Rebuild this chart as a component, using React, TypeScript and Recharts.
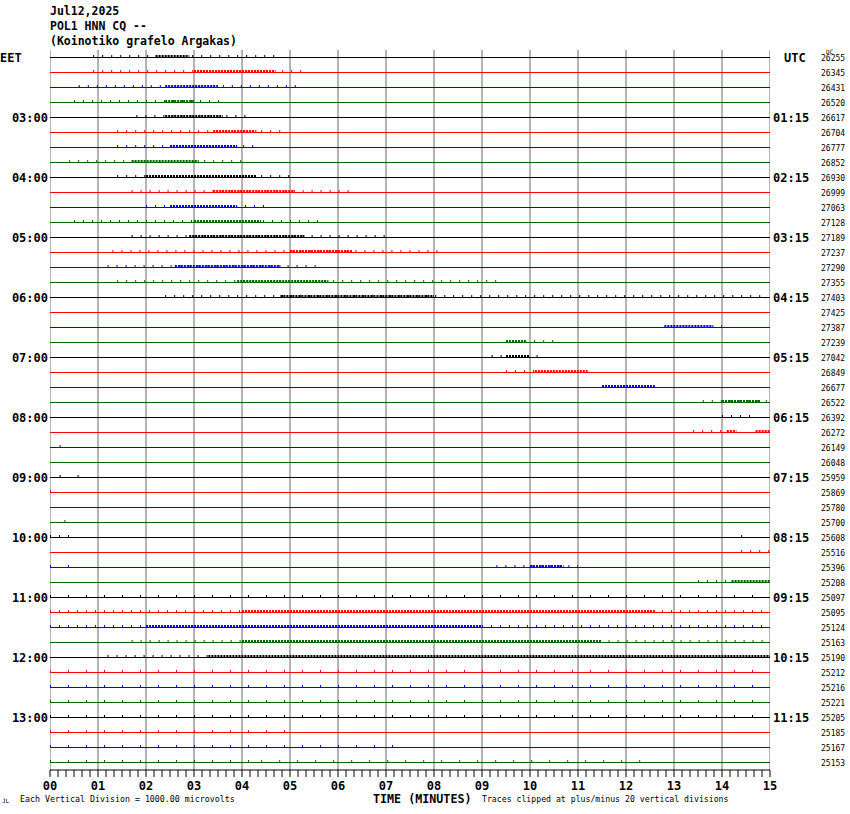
import { LineChart, Line, XAxis, YAxis } from "recharts";

const MONO = "'DejaVu Sans Mono', 'Liberation Mono', monospace";

const traceColors = ["#000000", "#ff0000", "#0000ff", "#006400"];
const rowCount = 48;

const minuteLabels = ["00", "01", "02", "03", "04", "05", "06", "07", "08", "09", "10", "11", "12", "13", "14", "15"];
const eetLabels = ["EET", "03:00", "04:00", "05:00", "06:00", "07:00", "08:00", "09:00", "10:00", "11:00", "12:00", "13:00"];
const utcLabels = ["UTC", "01:15", "02:15", "03:15", "04:15", "05:15", "06:15", "07:15", "08:15", "09:15", "10:15", "11:15"];

const dcValues = [
  26255, 26345, 26431, 26520, 26617, 26704, 26777, 26852, 26930, 26999,
  27063, 27128, 27189, 27237, 27290, 27355, 27403, 27425, 27387, 27239,
  27042, 26849, 26677, 26522, 26392, 26272, 26149, 26048, 25959, 25869,
  25780, 25700, 25608, 25516, 25396, 25208, 25097, 25095, 25124, 25163,
  25190, 25212, 25216, 25221, 25205, 25185, 25167, 25153,
];

// [row, from minute, to minute] – busy stretches
const denseBursts: [number, number, number][] = [
  [0, 2.2, 2.9], [1, 3.0, 4.7], [2, 2.4, 3.5], [3, 2.4, 3.0],
  [4, 2.4, 3.6], [5, 3.4, 4.3], [6, 2.5, 3.9], [7, 1.7, 3.1],
  [8, 2.0, 4.3], [9, 3.4, 5.1], [10, 2.5, 3.9], [11, 3.0, 4.4],
  [12, 2.9, 5.3], [13, 5.0, 6.3], [14, 2.6, 4.8], [15, 3.9, 5.8],
  [16, 4.8, 8.0], [18, 12.8, 13.8], [19, 9.5, 9.9], [20, 9.5, 10.0],
  [21, 10.1, 11.2], [22, 11.5, 12.6], [23, 14.0, 14.8], [25, 14.1, 14.3],
  [25, 14.7, 15.0], [34, 10.0, 10.7], [35, 14.2, 15.0], [37, 4.0, 12.6],
  [38, 2.0, 9.0], [39, 4.0, 11.5], [40, 3.3, 15.0],
];

const sparseBursts: [number, number, number][] = [
  [0, 0.9, 4.8], [1, 0.9, 5.4], [2, 0.6, 5.2], [3, 0.5, 3.6],
  [4, 1.8, 4.1], [5, 1.4, 4.8], [6, 1.4, 4.3], [7, 0.4, 4.1],
  [8, 1.4, 5.1], [9, 1.7, 6.3], [10, 2.0, 4.6], [11, 0.5, 5.6],
  [12, 1.7, 7.1], [13, 1.3, 8.1], [14, 1.2, 5.7], [15, 1.4, 9.4],
  [16, 2.4, 14.8], [18, 13.8, 14.0], [19, 9.9, 10.5], [20, 9.2, 10.2],
  [21, 9.5, 10.1], [23, 13.6, 15.0], [24, 14.0, 14.6], [25, 13.4, 14.1],
  [32, 0.0, 0.5], [33, 14.4, 15.0], [34, 9.3, 11.0], [35, 13.5, 14.2],
  [37, 0.0, 15.0], [38, 0.0, 15.0], [39, 1.7, 15.0], [40, 1.2, 3.3],
];

const faintBursts: [number, number, number][] = [
  [26, 0.2, 0.4], [28, 0.2, 0.6], [29, 0.0, 0.2], [31, 0.3, 0.4],
  [32, 14.4, 14.6], [34, 0.0, 0.4], [36, 0.0, 15.0], [41, 0.0, 15.0],
  [42, 0.0, 15.0], [43, 0.0, 15.0], [44, 0.0, 3.0], [44, 3.0, 15.0],
  [45, 0.0, 5.0], [46, 0.0, 7.5], [47, 0.0, 4.4], [47, 4.4, 12.5],
];

const minorTicks = Array.from({ length: 15 * 6 + 1 }, (_, i) => i / 6);
const leftTicks = eetLabels.map((_, k) => k * 4 + 0.5);
const rightTicks = dcValues.map((_, i) => i + 0.5);

const LIFT = 1 / 15; // noise sits a pixel above the trace

const seg = (row: number, a: number, b: number) => [
  { x: a, y: row + 0.5 - LIFT },
  { x: b, y: row + 0.5 - LIFT },
];

function MinuteTick({ x, payload }: any) {
  const v = payload.value;
  if (Math.abs(v - Math.round(v)) > 1e-6) return <g />;
  return (
    <text x={x} y={790} textAnchor="middle" fontFamily={MONO} fontWeight="bold" fontSize={12} fill="#000">
      {minuteLabels[Math.round(v)]}
    </text>
  );
}

function LeftTick({ y, index }: any) {
  const first = index === 0;
  return (
    <text x={first ? 0 : 48} y={y} dy={4} textAnchor={first ? "start" : "end"}
      fontFamily={MONO} fontWeight="bold" fontSize={12} fill="#000">
      {eetLabels[index]}
    </text>
  );
}

function RightTick({ y, index }: any) {
  const hour = index % 4 === 0 ? utcLabels[index / 4] : null;
  return (
    <g>
      {hour && (
        <text x={index === 0 ? 784 : 773} y={y} dy={4} fontFamily={MONO} fontWeight="bold" fontSize={12} fill="#000">
          {hour}
        </text>
      )}
      <text x={821} y={y} dy={3} fontFamily={MONO} fontSize={8} fill="#000">
        {dcValues[index]}
      </text>
    </g>
  );
}

export default function App() {
  return (
    <div style={{ position: "absolute", left: 0, top: 0, width: 850, height: 814, background: "#fff" }}>
      <div style={{ position: "absolute", left: 50, top: 4, fontFamily: MONO, fontWeight: "bold", fontSize: 11.5, lineHeight: "15px", color: "#000", whiteSpace: "pre" }}>
        {"Jul12,2025\nPOL1 HNN CQ --\n(Koinotiko grafelo Argakas)"}
      </div>
      <div style={{ position: "absolute", left: 826, top: 48, fontFamily: MONO, fontSize: 6, color: "#000" }}>DC</div>

      <LineChart width={850} height={814} margin={{ top: 50, right: 0, bottom: 24, left: 0 }}>
        <XAxis type="number" dataKey="x" domain={[0, 15]} ticks={minorTicks} interval={0}
          allowDataOverflow height={20} tickSize={7} stroke="#000" tick={<MinuteTick />} />
        <YAxis yAxisId={0} type="number" domain={[0, 48]} reversed allowDataOverflow width={50}
          ticks={leftTicks} interval={0} axisLine={false} tickLine={false} tick={<LeftTick />} />
        <YAxis yAxisId="r" orientation="right" type="number" domain={[0, 48]} reversed allowDataOverflow width={80}
          ticks={rightTicks} interval={0} axisLine={false} tickLine={false} tick={<RightTick />} />

        {minuteLabels.map((_, m) => (
          <Line key={`g${m}`} data={[{ x: m, y: 0 }, { x: m, y: 48 }]} dataKey="y"
            stroke="#b4b4b4" strokeWidth={2} dot={false} isAnimationActive={false} />
        ))}

        {Array.from({ length: rowCount }, (_, r) => (
          <Line key={`b${r}`} data={[{ x: 0, y: r + 0.5 }, { x: 15, y: r + 0.5 }]} dataKey="y"
            stroke={traceColors[r % 4]} strokeWidth={1} dot={false} isAnimationActive={false} />
        ))}

        {faintBursts.map(([r, a, b], i) => (
          <Line key={`f${i}`} data={seg(r, a, b)} dataKey="y" stroke={traceColors[r % 4]}
            strokeWidth={3} strokeDasharray="1 17" dot={false} isAnimationActive={false} />
        ))}
        {sparseBursts.map(([r, a, b], i) => (
          <Line key={`s${i}`} data={seg(r, a, b)} dataKey="y" stroke={traceColors[r % 4]}
            strokeWidth={3} strokeDasharray="1 8" dot={false} isAnimationActive={false} />
        ))}
        {denseBursts.map(([r, a, b], i) => (
          <Line key={`d${i}`} data={seg(r, a, b)} dataKey="y" stroke={traceColors[r % 4]}
            strokeWidth={3} strokeDasharray="2 1" dot={false} isAnimationActive={false} />
        ))}
      </LineChart>

      <div style={{ position: "absolute", left: 2, top: 797, fontFamily: MONO, fontSize: 6, color: "#000" }}>JL</div>
      <div style={{ position: "absolute", left: 20, top: 794, fontFamily: MONO, fontSize: 8.3, color: "#000", whiteSpace: "pre" }}>
        Each Vertical Division = 1000.00 microvolts
      </div>
      <div style={{ position: "absolute", left: 373, top: 792, fontFamily: MONO, fontWeight: "bold", fontSize: 11.7, color: "#000", whiteSpace: "pre" }}>
        TIME (MINUTES)
      </div>
      <div style={{ position: "absolute", left: 482, top: 794, fontFamily: MONO, fontSize: 8.2, color: "#000", whiteSpace: "pre" }}>
        Traces clipped at plus/minus 20 vertical divisions
      </div>
    </div>
  );
}
